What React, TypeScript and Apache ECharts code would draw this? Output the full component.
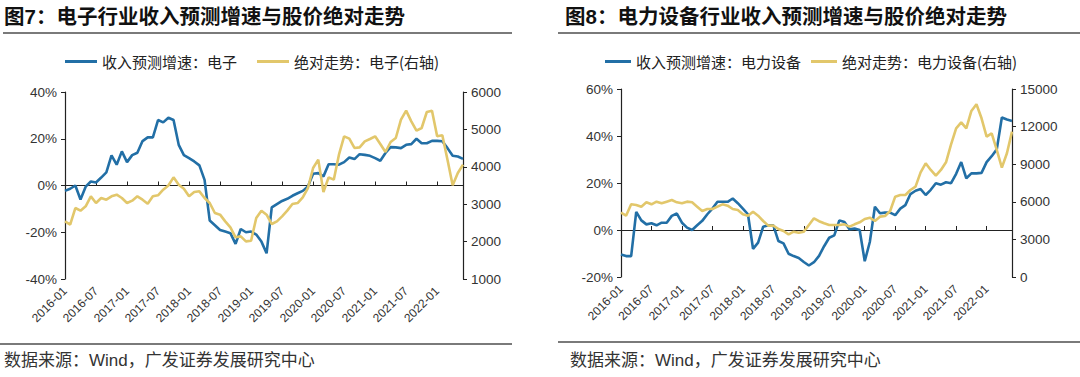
import React, { useEffect, useRef } from "react";
import * as echarts from "echarts";

// ---- categories ----
const months: string[] = [];
for (let y = 2016; y <= 2022; y++) {
  for (let m = 1; m <= 12; m++) {
    if (y === 2022 && m > 6) break;
    months.push(`${y}-${m < 10 ? "0" + m : m}`);
  }
}

// ---- chart 7: 电子 ----
const eleGrowth = [-2.3,-1.4,0,-6,-0.5,1.7,1.3,3.4,5.6,12.9,8.9,14.6,10,13,14,19,20.6,20.6,28,27,29,28,17.4,13,11.7,10.3,8.6,2.4,-15,-17,-19,-19.7,-20.4,-25,-18.6,-20,-19.7,-21,-24,-29,-9.4,-8,-6.6,-5.7,-4.4,-3.3,-2.3,-0.4,5,5.3,3.9,9.1,9.1,8.9,10,12,11.3,13.4,13.1,12.7,11.7,10.6,13.9,16.4,16.3,16,17.4,17.7,20,18.1,18.1,19.1,19.1,18.9,16,12.7,12.4,11.4];
const elePrice = [2542,2453,2898,2827,2943,3210,3032,3166,3121,3210,3255,3166,3032,3094,3210,3121,3014,3210,3237,3388,3500,3718,3522,3415,3210,3326,3344,3166,3032,2765,2720,2542,2381,2114,2140,2007,2025,2631,2827,2720,2470,2542,2675,2827,3005,3032,3184,3433,3968,4191,3326,3718,3656,4324,4815,4752,4503,4520,4681,4743,4815,4610,4396,4663,4770,5260,5501,5216,4966,5037,5465,5501,4815,4841,4191,3504,3834,4057];

// ---- chart 8: 电力设备 ----
const powGrowth = [-10.4,-11.1,-11.1,7.7,4.1,2.4,2.9,2,3.1,3.1,6,7,3.1,1,0,2,3.9,6.7,9.1,12,12,12,13.4,11.4,9.1,6.7,-8,-5.4,1.4,2,2,-4.7,-5.7,-10.1,-11.1,-11.9,-13.6,-15.1,-13.7,-11,-6.9,-3.3,-2.3,4.1,3.4,0.3,0.6,0,-13.3,-5.1,9.9,7.1,7.4,7.4,6.3,9.1,10.6,15.3,16.7,17.4,14.9,17.1,19.9,19.3,20.3,19.9,23.9,28.9,22,24.1,24.1,24.3,28.9,31.4,34.3,47.9,47,46.4];
const powPrice = [5134,4894,5799,5746,5613,5958,5799,6012,5879,6012,6145,5958,5879,6012,5958,5613,5267,5426,5426,5613,5799,5692,5426,5347,5001,4894,5214,4894,4469,4096,4096,3830,3671,3405,3618,3538,3618,4150,4682,4450,4283,4150,4150,4150,4203,4017,4203,4362,4628,4735,4469,4815,4868,5267,6411,6544,6544,6943,7209,8352,9071,8539,8086,8539,9150,10587,11864,12342,11864,13247,13779,12662,11199,11465,10135,8725,9869,11598];

const names7 = ["收入预测增速：电子", "绝对走势：电子(右轴)"];
const names8 = ["收入预测增速：电力设备", "绝对走势：电力设备(右轴)"];
const titles = ["图7：电子行业收入预测增速与股价绝对走势", "图8：电力设备行业收入预测增速与股价绝对走势"];
const source = "数据来源：Wind，广发证券发展研究中心";

const BLUE = "#226fa6";
const YELLOW = "#e2c76b";
const LATIN = "'Liberation Sans', Arial, 'Noto Sans CJK SC', sans-serif";
const AX = "#222";

function xAxes(grid: number, onZeroIdx: number) {
  return [
    {
      gridIndex: grid,
      type: "category",
      data: months,
      boundaryGap: false,
      axisLine: { show: false, onZero: false },
      axisTick: { show: false },
      axisLabel: {
        interval: 5,
        rotate: 45,
        fontSize: 12,
        color: "#333",
        margin: 10,
        fontFamily: LATIN,
      },
    },
    {
      gridIndex: grid,
      type: "category",
      data: months,
      boundaryGap: false,
      axisLine: { show: true, onZero: true, onZeroAxisIndex: onZeroIdx, lineStyle: { color: AX, width: 1.2 } },
      axisTick: { show: true, interval: 5, length: 4, lineStyle: { color: AX } },
      axisLabel: { show: false },
    },
  ];
}

function yAxis(grid: number, pos: string, min: number, max: number, interval: number, pct: boolean) {
  return {
    gridIndex: grid,
    type: "value",
    position: pos,
    min,
    max,
    interval,
    axisLine: { show: true, lineStyle: { color: AX, width: 1.2 } },
    axisTick: { show: true, length: 4, lineStyle: { color: AX } },
    splitLine: { show: false },
    axisLabel: {
      formatter: (v: number) => (pct ? `${v}%` : `${v}`),
      fontSize: 13.5,
      color: "#333",
      margin: 8,
      fontFamily: LATIN,
    },
  };
}

function line(name: string, data: number[], color: string, xi: number, yi: number) {
  return {
    name,
    type: "line",
    data,
    xAxisIndex: xi,
    yAxisIndex: yi,
    symbol: "none",
    lineStyle: { color, width: 2.6 },
    itemStyle: { color },
  };
}

export default function App() {
  const ref = useRef<HTMLDivElement>(null);
  useEffect(() => {
    if (!ref.current) return;
    const chart = echarts.init(ref.current, undefined, { renderer: "svg" });
    const legendText = { fontSize: 15, color: "#222", fontFamily: "'Noto Sans CJK SC', sans-serif" };
    chart.setOption({
      animation: false,
      backgroundColor: "#fff",
      grid: [
        { left: 65, top: 92, width: 398, height: 187 },
        { left: 621, top: 89, width: 391, height: 188 },
      ],
      legend: [
        {
          data: names7,
          left: 60,
          top: 49,
          icon: "rect",
          itemWidth: 32,
          itemHeight: 3,
          itemGap: 20,
          textStyle: legendText,
        },
        {
          data: names8,
          left: 600,
          top: 49,
          icon: "rect",
          itemWidth: 26,
          itemHeight: 3,
          itemGap: 10,
          textStyle: legendText,
        },
      ],
      xAxis: [...xAxes(0, 0), ...xAxes(1, 2)],
      yAxis: [
        yAxis(0, "left", -40, 40, 20, true),
        yAxis(0, "right", 1000, 6000, 1000, false),
        yAxis(1, "left", -20, 60, 20, true),
        yAxis(1, "right", 0, 15000, 3000, false),
      ],
      series: [
        line(names7[0], eleGrowth, BLUE, 0, 0),
        line(names7[1], elePrice, YELLOW, 0, 1),
        line(names8[0], powGrowth, BLUE, 2, 2),
        line(names8[1], powPrice, YELLOW, 2, 3),
      ],
      graphic: [
        { type: "text", left: 4, top: 6, style: { text: titles[0], fontSize: 20.5, fontWeight: "bold", fill: "#111", fontFamily: LATIN } },
        { type: "text", left: 565, top: 6, style: { text: titles[1], fontSize: 20.5, fontWeight: "bold", fill: "#111", fontFamily: LATIN } },
        { type: "line", shape: { x1: 3, y1: 33, x2: 512, y2: 33 }, style: { stroke: "#7a7a7a", lineWidth: 2 } },
        { type: "line", shape: { x1: 558, y1: 33, x2: 1080, y2: 33 }, style: { stroke: "#7a7a7a", lineWidth: 2 } },
        { type: "line", shape: { x1: 0, y1: 344, x2: 512, y2: 344 }, style: { stroke: "#7a7a7a", lineWidth: 2 } },
        { type: "line", shape: { x1: 558, y1: 342, x2: 1080, y2: 342 }, style: { stroke: "#7a7a7a", lineWidth: 2 } },
        { type: "text", left: 4, top: 352, style: { text: source, fontSize: 17, fill: "#333", fontFamily: LATIN } },
        { type: "text", left: 570, top: 352, style: { text: source, fontSize: 17, fill: "#333", fontFamily: LATIN } },
      ],
    });
    return () => chart.dispose();
  }, []);
  return (
    <div
      ref={ref}
      style={{ position: "fixed", left: 0, top: 0, width: 1080, height: 377, background: "#fff" }}
    />
  );
}
